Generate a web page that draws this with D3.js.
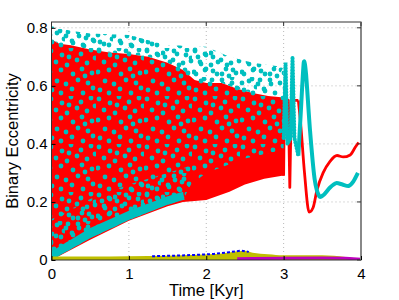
<!DOCTYPE html>
<html>
<head>
<meta charset="utf-8">
<script src="https://cdn.jsdelivr.net/npm/d3@7"></script>
<style>
  body { margin: 0; background: #fff; }
  svg { display: block; font-family: "Liberation Sans", Arial, sans-serif; }
</style>
</head>
<body>
<div id="chart"></div>
<script>
// axis ticks
const xTicks = [0, 1, 2, 3, 4]
const yTicks = [0, 0.2, 0.4, 0.6, 0.8]

// red series: dense oscillation band up to ~3 Kyr, then a single curve
const redUpper = [[0, 0.76], [0.1, 0.745], [0.25, 0.74], [0.5, 0.725], [0.75, 0.715], [1, 0.71], [1.25, 0.70], [1.5, 0.68], [1.7, 0.655], [1.85, 0.62], [2.0, 0.61], [2.2, 0.61], [2.4, 0.59], [2.6, 0.575], [2.8, 0.565], [3.0, 0.56]]
const redLower = [[0, 0], [0.5, 0.07], [1, 0.135], [1.5, 0.185], [1.7, 0.2], [1.85, 0.203], [2.0, 0.207], [2.3, 0.235], [2.5, 0.26], [2.75, 0.28], [2.98, 0.29], [3.0, 0.29]]
const redSpikes = [[3.0, 0.29], [3.01, 0.55], [3.06, 0.55], [3.08, 0.25], [3.10, 0.55], [3.19, 0.55]]
const redTail = [[3.19, 0.55], [3.22, 0.47], [3.27, 0.30], [3.33, 0.165], [3.38, 0.18], [3.43, 0.24], [3.51, 0.30], [3.6, 0.34], [3.69, 0.36], [3.77, 0.355], [3.86, 0.362], [3.93, 0.39], [3.97, 0.405]]

// cyan series: scattered points cloud, then a single curve
const cyanUpper = [[0, 0.805], [0.25, 0.79], [0.5, 0.78], [1, 0.775], [1.5, 0.74], [2, 0.735], [2.3, 0.70], [2.6, 0.68], [3.0, 0.665]]
const cyanLower = [[0, 0], [0.5, 0.075], [1, 0.138], [1.5, 0.19], [1.7, 0.207], [1.8, 0.26], [2.0, 0.30], [2.5, 0.35], [3.0, 0.38]]
const cyanEdge = [[0, 0.03], [0.5, 0.11], [1, 0.17], [1.5, 0.22], [1.7, 0.235], [1.72, 0.207]]
const cyanMid = [[0, 0.14], [0.5, 0.21], [1, 0.26], [1.5, 0.3], [1.75, 0.32], [1.8, 0.26]]
const cyanSpikes = [[3.0, 0.42], [3.025, 0.68], [3.05, 0.40], [3.09, 0.42], [3.115, 0.70], [3.14, 0.42], [3.19, 0.36]]
const cyanTail = [[3.19, 0.36], [3.22, 0.50], [3.26, 0.68], [3.29, 0.64], [3.34, 0.45], [3.40, 0.28], [3.46, 0.22], [3.52, 0.225], [3.6, 0.25], [3.68, 0.265], [3.76, 0.26], [3.84, 0.255], [3.9, 0.27], [3.96, 0.30]]

// small series near zero
const yellowTop = [[0, 0.012], [0.5, 0.012], [1, 0.013], [1.5, 0.015], [1.9, 0.018], [2.2, 0.022], [2.4, 0.03], [2.5, 0.032], [2.6, 0.025], [2.8, 0.02], [3, 0.016], [3.5, 0.016], [3.8, 0.01], [4, 0.003]]
const blueLine = [[1.3, 0.013], [1.6, 0.015], [1.9, 0.018], [2.1, 0.021], [2.3, 0.027], [2.45, 0.032], [2.55, 0.028]]
const magentaLine = [[2.4, 0.004], [2.6, 0.005], [3, 0.006], [3.5, 0.007], [3.8, 0.006], [4, 0.003]]

const width = 399, height = 300
const margin = {top: 22, right: 38, bottom: 40, left: 51.5}

const svg = d3.select("#chart").append("svg")
  .attr("width", width)
  .attr("height", height)

const x = d3.scaleLinear().domain([0, 4]).range([margin.left, width - margin.right])
const y = d3.scaleLinear().domain([0, 0.82]).range([height - margin.bottom, margin.top])

const plotW = x(4) - x(0), plotH = y(0) - y(0.82)

const defs = svg.append("defs")
defs.append("clipPath").attr("id", "clip")
  .append("rect").attr("x", x(0)).attr("y", y(0.82)).attr("width", plotW).attr("height", plotH)

// dot texture for the cyan point cloud (two offsets of the same tile)
const dotSpots = [[3, 3], [14, 7], [23, 1], [33, 6], [43, 2], [8, 14], [19, 17], [29, 12], [39, 15], [47, 10],
  [2, 24], [13, 22], [25, 26], [34, 21], [44, 25], [9, 33], [18, 36], [30, 32], [40, 35], [4, 42],
  [13, 45], [24, 41], [35, 45], [45, 40], [21, 9], [37, 28]]
function addDots(id, dx, dy) {
  const p = defs.append("pattern")
    .attr("id", id)
    .attr("patternUnits", "userSpaceOnUse")
    .attr("patternTransform", `translate(${dx},${dy})`)
    .attr("width", 48).attr("height", 48)
  p.selectAll("circle").data(dotSpots).join("circle")
    .attr("cx", d => d[0]).attr("cy", d => d[1]).attr("r", 2.4)
    .attr("fill", "#00bfbf")
}
addDots("cyanDots", 0, 0)
addDots("cyanDots2", 17, 29)

// grid
const grid = svg.append("g").attr("stroke", "#b8b8b8").attr("stroke-dasharray", "1,3")
grid.selectAll(".gx").data(xTicks.slice(1, -1)).join("line")
  .attr("x1", d => x(d)).attr("x2", d => x(d)).attr("y1", y(0)).attr("y2", y(0.82))
grid.selectAll(".gy").data(yTicks.slice(1)).join("line")
  .attr("y1", d => y(d)).attr("y2", d => y(d)).attr("x1", x(0)).attr("x2", x(4))

const plot = svg.append("g").attr("clip-path", "url(#clip)")

const line = d3.line().x(d => x(d[0])).y(d => y(d[1]))
const smooth = d3.line().x(d => x(d[0])).y(d => y(d[1])).curve(d3.curveMonotoneX)

// red band
plot.append("path")
  .attr("d", line(redUpper.concat(redLower.slice().reverse())) + "Z")
  .attr("fill", "#ff0000")

// red spikes and tail
plot.append("path")
  .attr("d", line(redSpikes))
  .attr("fill", "none").attr("stroke", "#ff0000").attr("stroke-width", 2.8)
  .attr("stroke-linejoin", "round")
plot.append("path")
  .attr("d", smooth(redTail))
  .attr("fill", "none").attr("stroke", "#ff0000").attr("stroke-width", 2.8)

// cyan cloud
plot.append("path")
  .attr("d", line(cyanUpper.concat(cyanLower.slice().reverse())) + "Z")
  .attr("fill", "url(#cyanDots)")

plot.append("path")
  .attr("d", line(cyanUpper.concat(redUpper.slice(0, -1).reverse())) + "Z")
  .attr("fill", "url(#cyanDots2)")

plot.append("path")
  .attr("d", line(cyanMid.concat(cyanLower.slice(0, 6).reverse())) + "Z")
  .attr("fill", "url(#cyanDots2)")

plot.append("path")
  .attr("d", line(cyanEdge.concat(cyanLower.slice(0, 5).reverse())) + "Z")
  .attr("fill", "#00bfbf")

// cyan spikes (marker-like dots) and tail
plot.append("path")
  .attr("d", line(cyanSpikes))
  .attr("fill", "none").attr("stroke", "#00bfbf").attr("stroke-width", 4)
  .attr("stroke-linecap", "round").attr("stroke-dasharray", "0.5,2.5")
plot.append("path")
  .attr("d", d3.line().x(d => x(d[0])).y(d => y(d[1])).curve(d3.curveCardinal.tension(0.3))(cyanTail))
  .attr("fill", "none").attr("stroke", "#00bfbf").attr("stroke-width", 4)

// near-zero series
plot.append("path")
  .attr("d", d3.area().x(d => x(d[0])).y0(y(0)).y1(d => y(d[1])).curve(d3.curveMonotoneX)(yellowTop))
  .attr("fill", "#bfbf00")

plot.append("path")
  .attr("d", line(blueLine))
  .attr("fill", "none").attr("stroke", "#0000ff").attr("stroke-width", 2)
  .attr("stroke-dasharray", "3,2")

plot.append("path")
  .attr("d", line(magentaLine))
  .attr("fill", "none").attr("stroke", "#bf00bf").attr("stroke-width", 3)

// box and axes
svg.append("rect")
  .attr("x", x(0)).attr("y", y(0.82)).attr("width", plotW).attr("height", plotH)
  .attr("fill", "none").attr("stroke", "#333").attr("stroke-width", 1)
svg.append("line")
  .attr("x1", x(4)).attr("x2", x(4)).attr("y1", y(0.82)).attr("y2", y(0))
  .attr("stroke", "#888").attr("stroke-width", 2)

const xAxis = svg.append("g")
  .attr("transform", `translate(0,${y(0)})`)
  .call(d3.axisBottom(x).tickValues(xTicks).tickFormat(d3.format("d")).tickSizeInner(-4).tickSizeOuter(0).tickPadding(8))
xAxis.select(".domain").remove()
xAxis.selectAll("text").attr("font-size", 15).attr("fill", "#000").attr("font-family", "Liberation Sans, Arial, sans-serif")

const yAxis = svg.append("g")
  .attr("transform", `translate(${x(0)},0)`)
  .call(d3.axisLeft(y).tickValues(yTicks).tickFormat(d => d === 0 ? "0" : d3.format(".1f")(d)).tickSizeInner(-4).tickSizeOuter(0).tickPadding(4))
yAxis.select(".domain").remove()
yAxis.selectAll("text").attr("font-size", 15).attr("fill", "#000").attr("font-family", "Liberation Sans, Arial, sans-serif")

// mirrored ticks on top and right
svg.append("g").selectAll("line").data(xTicks).join("line")
  .attr("x1", d => x(d)).attr("x2", d => x(d)).attr("y1", y(0.82)).attr("y2", y(0.82) + 4)
  .attr("stroke", "#333")
svg.append("g").selectAll("line").data(yTicks).join("line")
  .attr("x1", x(4)).attr("x2", x(4) - 4).attr("y1", d => y(d)).attr("y2", d => y(d))
  .attr("stroke", "#333")

// labels
svg.append("text")
  .attr("x", (x(0) + x(4)) / 2).attr("y", 296)
  .attr("text-anchor", "middle").attr("font-size", 16.5)
  .text("Time [Kyr]")

svg.append("text")
  .attr("transform", `translate(18,${(y(0) + y(0.82)) / 2}) rotate(-90)`)
  .attr("text-anchor", "middle").attr("font-size", 16.5)
  .text("Binary Eccentricity")
</script>
</body>
</html>
